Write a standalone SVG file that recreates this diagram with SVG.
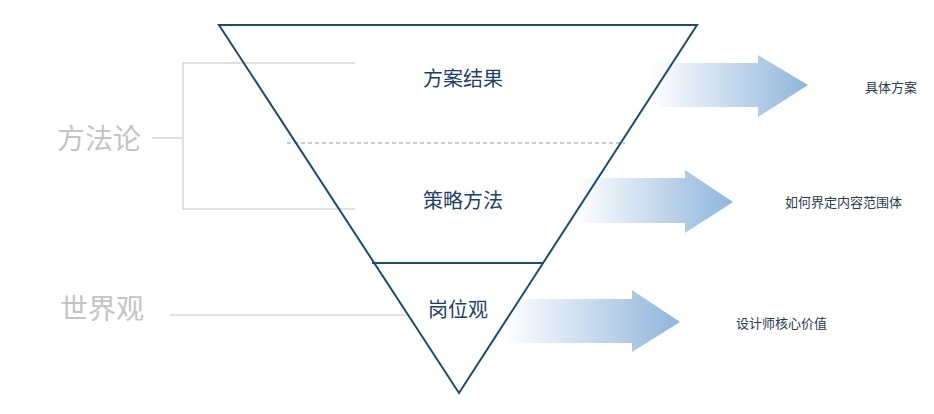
<svg xmlns="http://www.w3.org/2000/svg" width="934" height="414" viewBox="0 0 934 414">
<style>
.g{stroke:#d6d6d6;stroke-width:1.5;fill:none}
.t{font-family:"Noto Sans CJK SC",sans-serif;fill:#1f3f66}
.s{font-family:"Noto Sans CJK SC",sans-serif;fill:#2a3a4a;font-size:13px}
.l{font-family:"Noto Sans CJK SC",sans-serif;fill:#c4c4c4;font-size:28px}
</style>
<defs>
<linearGradient id="ag" x1="0" x2="1" y1="0" y2="0">
<stop offset="0" stop-color="#ffffff"/><stop offset="1" stop-color="#8fb5db"/>
</linearGradient>
</defs>
<rect width="934" height="414" fill="#fff"/>
<g id="connectors">
<path class="g" d="M355 63H183V209H355M152 138H183M170 315H407"/>
<line x1="287" y1="143" x2="625" y2="143" stroke="#8a9aaa" stroke-width="1" stroke-dasharray="4 3"/>
<path d="M650 63H758V55L808 85L758 117V107H650Z" fill="url(#ag)"/>
<path d="M575 178H685V170L733 202L685 233V223H575Z" fill="url(#ag)"/>
<path d="M505 299H632V290L680 322L632 352V343H505Z" fill="url(#ag)"/>
</g>
<g id="pyramid">
<path d="M219 25H697L459 393Z" fill="none" stroke="#1f4a6e" stroke-width="2"/>
<line x1="372" y1="263" x2="544" y2="263" stroke="#1f4a6e" stroke-width="2"/>
</g>
<g id="n1"><text class="t" x="463" y="86" font-size="20" text-anchor="middle">方案结果</text></g>
<g id="n2"><text class="t" x="463" y="208" font-size="20" text-anchor="middle">策略方法</text></g>
<g id="n3"><text class="t" x="458" y="317" font-size="20" text-anchor="middle">岗位观</text></g>
<g id="l1"><text class="l" x="57" y="149">方法论</text></g>
<g id="l2"><text class="l" x="60" y="319">世界观</text></g>
<g id="r1"><text class="s" x="865" y="92">具体方案</text></g>
<g id="r2"><text class="s" x="785" y="207">如何界定内容范围体</text></g>
<g id="r3"><text class="s" x="736" y="328">设计师核心价值</text></g>
</svg>
